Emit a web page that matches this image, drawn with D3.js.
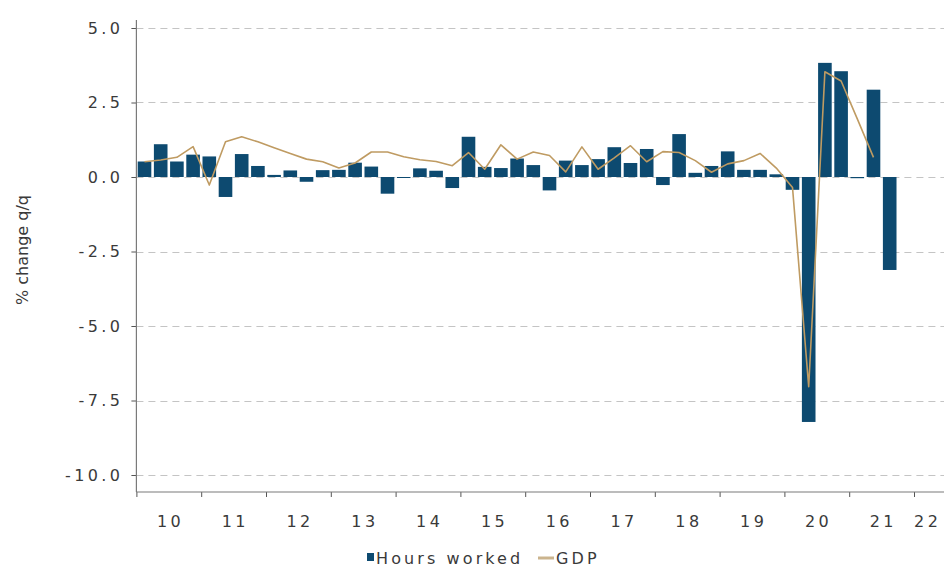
<!DOCTYPE html>
<html><head><meta charset="utf-8">
<script src="https://cdn.jsdelivr.net/npm/d3@7/dist/d3.min.js"></script>
<style>body{margin:0;background:#fff}svg{display:block}</style>
</head><body><svg id="c" width="944" height="568"></svg>
<script>
// ---- data ----
const years = [2010,2011,2012,2013,2014,2015,2016,2017,2018,2019,2020,2021,2022];
const yearLabels = ["10","11","12","13","14","15","16","17","18","19","20","21","22"];
const quarterNames = ["Q1","Q2","Q3","Q4"];
// x domain runs 2010Q1 .. 2022Q2
const quarters = years.flatMap(y => quarterNames.map(q => y + q)).slice(0, 50);
// Hours worked, % change q/q (2010Q1 .. 2021Q3)
const hoursWorked = [
  0.52, 1.10, 0.52, 0.75,
  0.69, -0.67, 0.77, 0.37,
  0.07, 0.22, -0.16, 0.23,
  0.24, 0.48, 0.35, -0.56,
  -0.03, 0.29, 0.21, -0.37,
  1.35, 0.34, 0.30, 0.62,
  0.40, -0.45, 0.55, 0.40,
  0.60, 1.00, 0.47, 0.94,
  -0.27, 1.44, 0.14, 0.37,
  0.86, 0.24, 0.24, 0.09,
  -0.43, -8.22, 3.83, 3.55,
  -0.04, 2.93, -3.12
];
// GDP, % change q/q (2010Q1 .. 2021Q2)
const gdp = [
  0.51, 0.57, 0.66, 1.02,
  -0.27, 1.18, 1.35, 1.18,
  0.98, 0.79, 0.60, 0.51,
  0.30, 0.47, 0.84, 0.84,
  0.68, 0.58, 0.52, 0.38,
  0.82, 0.26, 1.08, 0.60,
  0.84, 0.72, 0.17, 1.01,
  0.26, 0.64, 1.05, 0.51,
  0.85, 0.82, 0.55, 0.16,
  0.44, 0.55, 0.79, 0.30,
  -0.35, -7.04, 3.53, 3.22,
  1.95, 0.66
];
const yTicks = [5, 2.5, 0, -2.5, -5, -7.5, -10];
const seriesNames = ["Hours worked", "GDP"];

// ---- layout ----
const W = 944, H = 568;
const left = 136.4, qStep = 16.2;
const barColor = "#0d4a70", lineColor = "#bf9b62";
const font = "'DejaVu Sans', Verdana, sans-serif";
const ls = 3.4;

const svg = d3.select("#c");
const x = d3.scaleBand().domain(quarters)
  .range([left, left + qStep * quarters.length])
  .paddingInner(0.16).paddingOuter(0.08);
const y = d3.scaleLinear().domain([-10, 5]).range([475, 28]);
const yearX = d3.scaleLinear().domain([2010, 2011]).range([left, left + qStep * 4]);
const axisTop = y(5.27), axisBottom = y(-10.57);

// gridlines
svg.append("g").selectAll("line").data(yTicks).join("line")
  .attr("x1", left).attr("x2", W)
  .attr("y1", d => Math.round(y(d)) + 0.5).attr("y2", d => Math.round(y(d)) + 0.5)
  .attr("stroke", "#c4c4c4").attr("stroke-width", 1.2).attr("stroke-dasharray", "7,5");

// bars
svg.append("g").selectAll("rect").data(hoursWorked).join("rect")
  .attr("x", (d, i) => x(quarters[i]))
  .attr("width", x.bandwidth())
  .attr("y", d => y(Math.max(0, d)))
  .attr("height", d => Math.max(1, Math.abs(y(d) - y(0))))
  .attr("fill", barColor);

// GDP line
svg.append("path").datum(gdp)
  .attr("fill", "none").attr("stroke", lineColor).attr("stroke-width", 1.6)
  .attr("stroke-linejoin", "round")
  .attr("d", d3.line().x((d, i) => x(quarters[i]) + x.bandwidth() / 2).y(d => y(d)));

// y axis
const yAxis = svg.append("g").attr("transform", `translate(${left},0)`)
  .call(d3.axisLeft(y).tickValues(yTicks).tickFormat(d => d.toFixed(1)).tickSize(5).tickPadding(8));
yAxis.select(".domain").remove();
yAxis.selectAll(".tick line").attr("stroke", "#555");
yAxis.selectAll("text").attr("font-family", font).attr("font-size", 16)
  .attr("fill", "#3a3a3a").attr("letter-spacing", ls);
svg.append("line").attr("x1", left).attr("x2", left).attr("y1", axisTop).attr("y2", axisBottom)
  .attr("stroke", "#7a7a7a").attr("stroke-width", 1.2);

// x axis
const xAxis = svg.append("g").attr("transform", `translate(0,${axisBottom})`)
  .call(d3.axisBottom(yearX).tickValues(years).tickFormat("").tickSize(5));
xAxis.select(".domain").remove();
xAxis.selectAll(".tick line").attr("stroke", "#555");
svg.append("line").attr("x1", left).attr("x2", W).attr("y1", axisBottom).attr("y2", axisBottom)
  .attr("stroke", "#7a7a7a").attr("stroke-width", 1.2);
svg.append("g").selectAll("text").data(years).join("text")
  .attr("x", d => Math.min(yearX(d + 0.5), W - 18) + ls / 2)
  .attr("y", 527)
  .attr("text-anchor", "middle")
  .attr("font-family", font).attr("font-size", 16).attr("fill", "#3a3a3a")
  .attr("letter-spacing", ls)
  .text((d, i) => yearLabels[i]);

// y title
svg.append("text")
  .attr("transform", `translate(28,250) rotate(-90)`)
  .attr("text-anchor", "middle")
  .attr("font-family", font).attr("font-size", 16).attr("fill", "#3a3a3a")
  .text("% change q/q");

// legend
const lg = svg.append("g");
lg.append("rect").attr("x", 367).attr("y", 553).attr("width", 7).attr("height", 8).attr("fill", barColor);
lg.append("text").attr("x", 376).attr("y", 564)
  .attr("font-family", font).attr("font-size", 16).attr("fill", "#3a3a3a").attr("letter-spacing", 3.1)
  .text(seriesNames[0]);
lg.append("line").attr("x1", 538).attr("x2", 554).attr("y1", 558).attr("y2", 558)
  .attr("stroke", "#cbb48e").attr("stroke-width", 3);
lg.append("text").attr("x", 556).attr("y", 564)
  .attr("font-family", font).attr("font-size", 16).attr("fill", "#3a3a3a").attr("letter-spacing", 3.1)
  .text(seriesNames[1]);
</script></body></html>
